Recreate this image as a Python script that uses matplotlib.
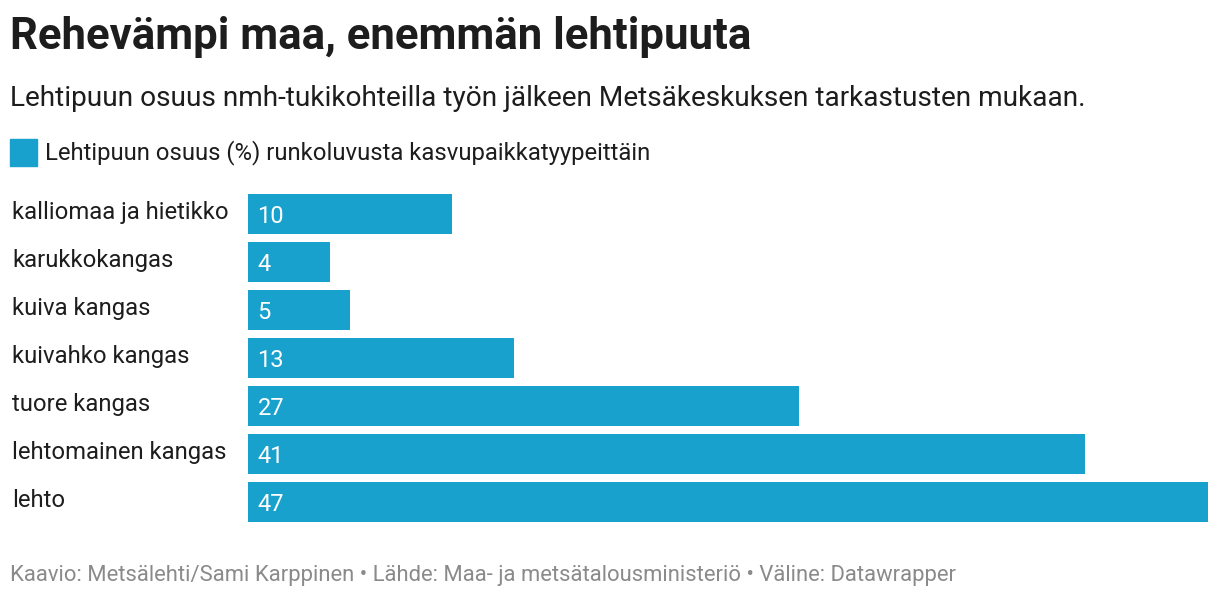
import matplotlib
matplotlib.use("Agg")
import matplotlib.pyplot as plt
from matplotlib.patches import Rectangle

# data
categories = ["kalliomaa ja hietikko", "karukkokangas", "kuiva kangas",
              "kuivahko kangas", "tuore kangas", "lehtomainen kangas", "lehto"]
values = [10, 4, 5, 13, 27, 41, 47]

title = "Rehevämpi maa, enemmän lehtipuuta"
subtitle = "Lehtipuun osuus nmh-tukikohteilla työn jälkeen Metsäkeskuksen tarkastusten mukaan."
legend_label = "Lehtipuun osuus (%) runkoluvusta kasvupaikkatyypeittäin"
footer = "Kaavio: Metsälehti/Sami Karppinen • Lähde: Maa- ja metsätalousministeriö • Väline: Datawrapper"

bar_color = "#18a1cd"
text_color = "#1d1d1d"

plt.rcParams['font.family'] = ['Roboto', 'DejaVu Sans']

W, H = 1220, 598
fig = plt.figure(figsize=(W / 100, H / 100), dpi=100)

def px(x, y):
    return x / W, 1 - y / H

# axes covering bar area in pixels: x 248..1208, y 190..526
ax = fig.add_axes([248 / W, (H - 526) / H, 960 / W, 336 / H])
ypos = list(range(len(categories)))
ax.barh(ypos, values, height=40 / 48, color=bar_color)
ax.set_xlim(0, max(values))
ax.set_ylim(len(categories) - 0.5, -0.5)
ax.axis('off')

for i, (c, v) in enumerate(zip(categories, values)):
    ax.annotate(str(v), (0, i), xytext=(6.8, -1.5), textcoords='offset points',
                color="white", fontsize=17, va='center', ha='left')
    y_pix = 190 + 48 * i + 22.5
    fig.text(*px(12, y_pix), c, color=text_color, fontsize=17.2, va='center', ha='left')

fig.text(*px(10, 37), title, fontsize=31.5, fontweight='bold', color=text_color, va='center')
fig.text(*px(10, 98), subtitle, fontsize=20.2, color=text_color, va='center')

fig.patches.append(Rectangle(px(10, 166), 27 / W, 27 / H, transform=fig.transFigure,
                             color=bar_color, figure=fig))
fig.text(*px(45, 153), legend_label, fontsize=17.2, color=text_color, va='center')

fig.text(*px(10, 575), footer, fontsize=15.8, color="#8a8a8a", va='center')

fig.savefig("out.png", dpi=100, facecolor="white")
